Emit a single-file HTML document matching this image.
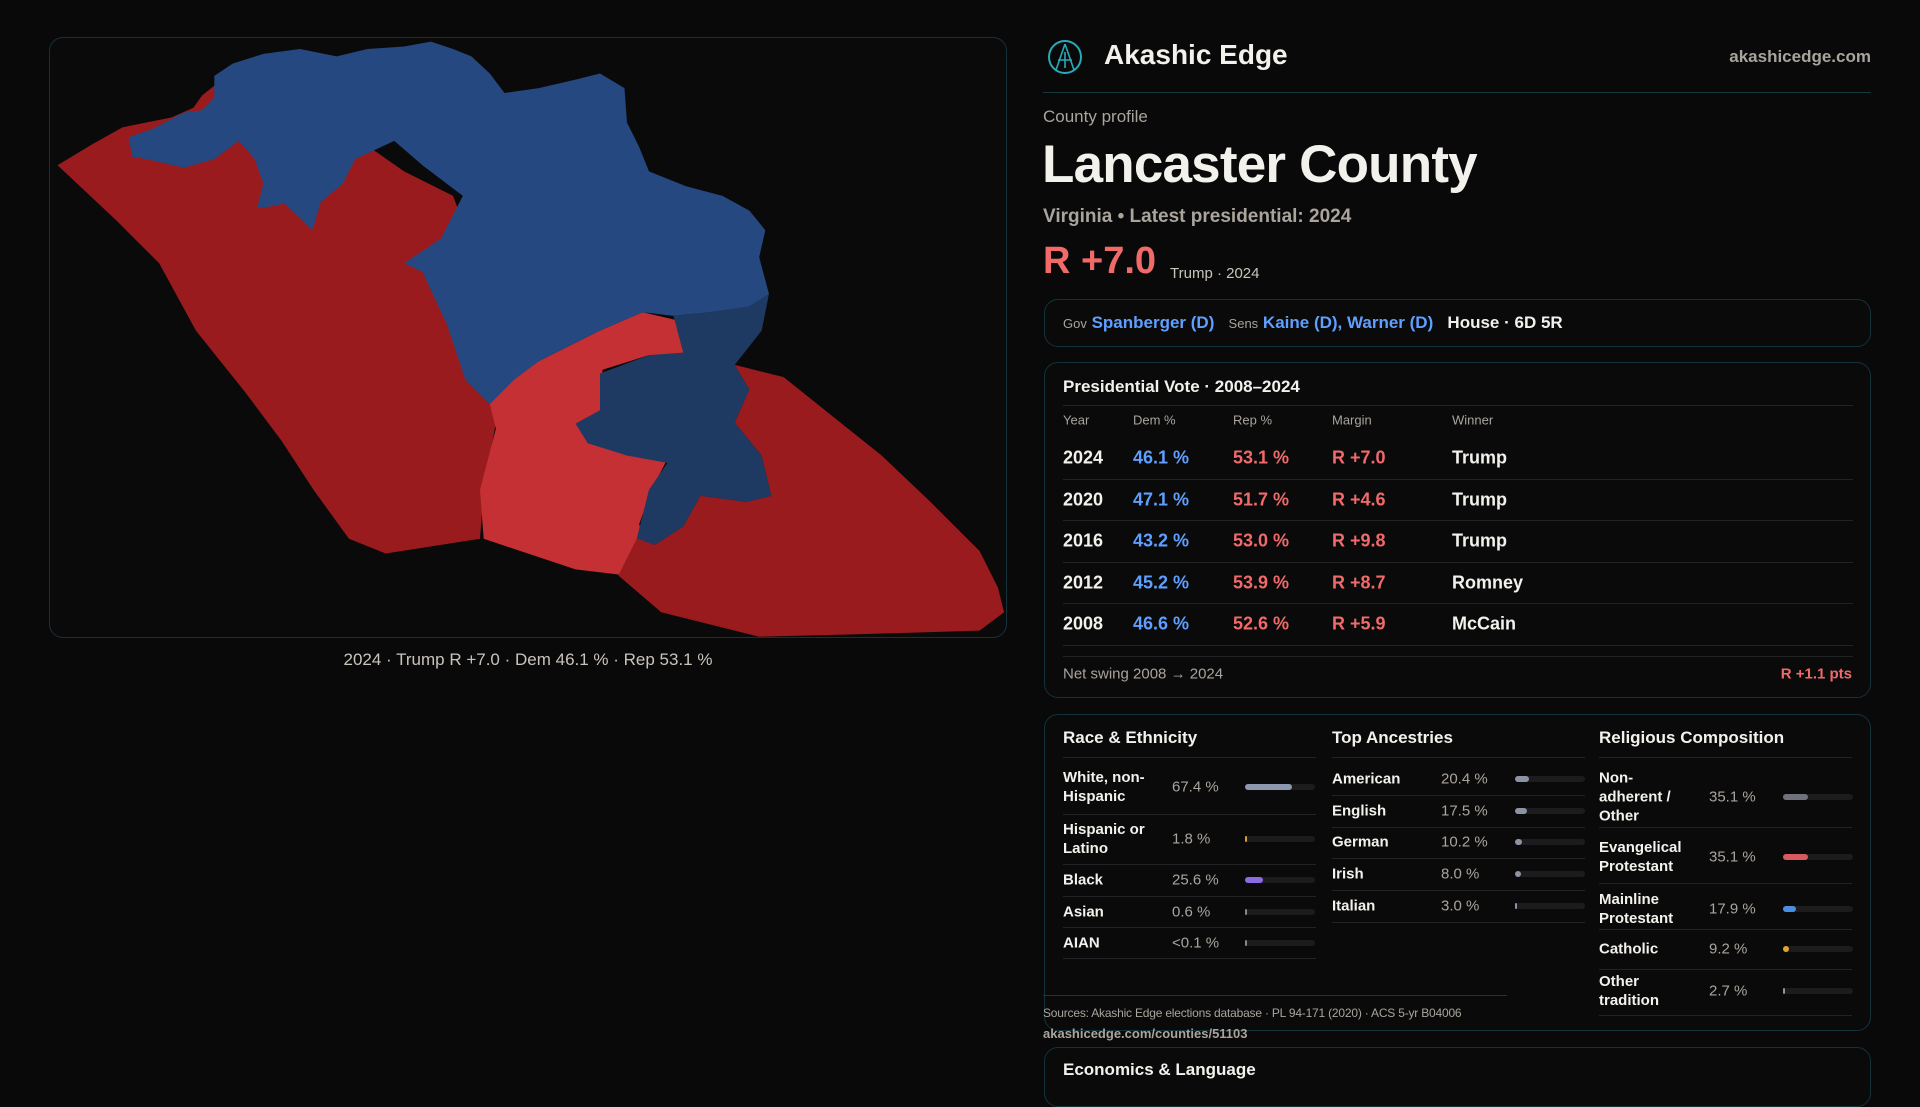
<!DOCTYPE html>
<html><head><meta charset="utf-8">
<style>
*{margin:0;padding:0;box-sizing:border-box}
body{width:1920px;height:1080px;background:#0a090a;font-family:"Liberation Sans",sans-serif;color:#f3f1ec;position:relative;overflow:hidden}
.abs{position:absolute;white-space:nowrap}
.panel{position:absolute;border:1px solid #14323a;border-radius:14px;background:#0b0a0b}
.grey{color:#a9a49c}
.blue{color:#5e9fff}
.red{color:#f06a6a}
.hl{position:absolute;height:1px;background:#232325}
.mid{transform:translateY(-50%)}
.track{position:absolute;height:6px;border-radius:3px;background:#1c1c1f}
.fill{position:absolute;left:0;top:0;height:6px;border-radius:3px}
</style></head><body>

<div class="panel" style="left:49px;top:37px;width:958px;height:601px"></div>
<svg style="position:absolute;left:0;top:0" width="1920" height="1080" viewBox="0 0 1568 882">
 <path fill="#9a1b1e" d="M47,135 L75,118 L100,104 L140,96 L158,88 L165,78 L175,70 L200,60 L290,112 L330,140 L370,160 L385,200 L395,240 L398,290 L405,345 L395,400 L392,440 L315,452 L285,440 L256,400 L230,360 L200,320 L160,270 L130,215 L95,180 Z"/>
 <path fill="#24487f" d="M105,112 L125,105 L150,92 L165,90 L175,80 L175,62 L190,52 L215,44 L245,40 L275,46 L300,40 L330,38 L352,34 L370,40 L385,46 L400,60 L412,76 L440,72 L470,65 L490,60 L510,72 L512,100 L522,120 L530,140 L560,152 L590,160 L612,172 L625,188 L620,210 L628,240 L615,250 L580,255 L550,258 L525,255 L490,270 L440,295 L400,330 L380,310 L365,265 L345,222 L330,215 L360,195 L378,160 L345,135 L322,115 L290,130 L280,150 L262,165 L255,188 L245,178 L232,166 L225,168 L210,170 L215,150 L208,130 L195,115 L175,130 L150,137 L120,130 L108,128 Z"/>
 <path fill="#c43033" d="M400,330 L420,310 L440,295 L490,270 L525,255 L555,262 L560,290 L530,290 L492,302 L492,335 L472,345 L482,360 L512,372 L545,375 L532,400 L522,428 L526,442 L512,470 L470,465 L395,440 L392,400 L405,350 Z"/>
 <path fill="#1f3a62" d="M550,258 L580,255 L612,250 L628,240 L622,270 L600,298 L612,318 L600,345 L622,372 L630,405 L610,410 L572,405 L558,430 L535,445 L520,440 L530,400 L545,378 L512,372 L480,362 L470,346 L490,335 L490,305 L530,290 L558,288 Z"/>
 <path fill="#9a1b1e" d="M600,298 L640,308 L680,340 L720,372 L760,410 L800,450 L815,480 L820,500 L800,515 L700,518 L620,520 L540,500 L505,470 L520,440 L535,445 L558,430 L572,405 L610,410 L630,405 L622,372 L600,345 L612,318 Z"/>
</svg>
<div class="abs grey" style="left:0;width:1056px;text-align:center;top:650px;font-size:17px;color:#c9c4bb">2024 · Trump R +7.0 · Dem 46.1 % · Rep 53.1 %</div>

<svg class="abs" style="left:1046px;top:38px" width="38" height="38" viewBox="0 0 38 38"><circle cx="19" cy="19" r="16" fill="none" stroke="#2aa9b8" stroke-width="2"/><path d="M19 6 L10 32 M19 6 L28 32 M12 22 L26 22 M19 14 L19 30" stroke="#2aa9b8" stroke-width="1.6" fill="none"/></svg>
<div class="abs" style="left:1104px;top:39px;font-size:28px;font-weight:bold">Akashic Edge</div>
<div class="abs grey" style="right:49px;top:47px;font-size:17px;font-weight:bold">akashicedge.com</div>
<div class="hl" style="left:1043px;width:828px;top:92px;background:#163840"></div>

<div class="abs grey" style="left:1043px;top:107px;font-size:17px">County profile</div>
<div class="abs" style="left:1042px;top:134px;font-size:53px;font-weight:bold;letter-spacing:-0.8px">Lancaster County</div>
<div class="abs grey" style="left:1043px;top:206px;font-size:19px;font-weight:bold">Virginia • Latest presidential: 2024</div>
<div class="abs red" style="left:1043px;top:240px;font-size:38px;font-weight:bold">R +7.0</div>
<div class="abs grey" style="left:1170px;top:265px;font-size:15px;color:#c9c4bb">Trump · 2024</div>

<div class="panel" style="left:1044px;top:299px;width:827px;height:48px"></div>
<div class="abs mid" style="left:1063px;top:323px;font-size:17px;font-weight:bold">
 <span class="grey" style="font-size:13px;font-weight:normal">Gov</span> <span class="blue">Spanberger (D)</span>&nbsp;&nbsp; <span class="grey" style="font-size:13px;font-weight:normal">Sens</span> <span class="blue">Kaine (D), Warner (D)</span>&nbsp;&nbsp; <span>House · 6D 5R</span></div>

<div class="panel" style="left:1044px;top:362px;width:827px;height:336px"></div>
<div class="abs" style="left:1063px;top:377px;font-size:17px;font-weight:bold">Presidential Vote · 2008–2024</div>
<div class="hl" style="left:1063px;width:790px;top:405px"></div>
<div class="hl" style="left:1063px;width:790px;top:656px"></div>
<div class="abs grey mid" style="left:1063px;top:674px;font-size:15px">Net swing 2008 → 2024</div>
<div class="abs red mid" style="right:68px;top:674px;font-size:15px;font-weight:bold">R +1.1 pts</div>

<div class="panel" style="left:1044px;top:714px;width:827px;height:317px"></div>
<div class="hl" style="left:1043px;width:464px;top:995px;background:#163840"></div>
<div class="abs grey" style="left:1043px;top:1006px;font-size:12px;letter-spacing:-0.2px">Sources: Akashic Edge elections database · PL 94-171 (2020) · ACS 5-yr B04006</div>
<div class="abs grey" style="left:1043px;top:1026px;font-size:13px;font-weight:bold">akashicedge.com/counties/51103</div>

<div class="panel" style="left:1044px;top:1047px;width:827px;height:60px"></div>
<div class="abs" style="left:1063px;top:1060px;font-size:17px;font-weight:bold">Economics &amp; Language</div>

<script>
const years=["2024","2020","2016","2012","2008"];
const demPct=[46.1,47.1,43.2,45.2,46.6];
const repPct=[53.1,51.7,53.0,53.9,52.6];
const margins=[7.0,4.6,9.8,8.7,5.9];
const winners=["Trump","Trump","Trump","Romney","McCain"];

const raceLabels=["White, non-Hispanic","Hispanic or Latino","Black","Asian","AIAN"];
const raceVals=[67.4,1.8,25.6,0.6,0.05];
const raceText=["67.4 %","1.8 %","25.6 %","0.6 %","<0.1 %"];
const ancLabels=["American","English","German","Irish","Italian"];
const ancVals=[20.4,17.5,10.2,8.0,3.0];
const relLabels=["Non-adherent / Other","Evangelical Protestant","Mainline Protestant","Catholic","Other tradition"];
const relVals=[35.1,35.1,17.9,9.2,2.7];

function add(parent,html,style,name,cls){
  const d=document.createElement('div');
  d.className='abs '+(cls||'');
  d.style.cssText=style;d.innerHTML=html;
  
  
  parent.appendChild(d);return d;
}
const body=document.body;
const cols=[1063,1133,1233,1332,1452];
["Year","Dem %","Rep %","Margin","Winner"].forEach((h,i)=>{
  add(body,h,`left:${cols[i]}px;top:420px;font-size:13px;transform:translateY(-50%)`,'column-header','grey');
});
const rowY=i=>458+i*41.6;
years.forEach((y,i)=>{
  const cy=rowY(i);
  const st=`top:${cy}px;font-size:18px;font-weight:bold;transform:translateY(-50%);`;
  add(body,y,st+`left:${cols[0]}px`,'year-cell','');
  add(body,demPct[i].toFixed(1)+' %',st+`left:${cols[1]}px`,'dem-cell','blue');
  add(body,repPct[i].toFixed(1)+' %',st+`left:${cols[2]}px`,'rep-cell','red');
  add(body,'R +'+margins[i].toFixed(1),st+`left:${cols[3]}px`,'margin-cell','red');
  add(body,winners[i],st+`left:${cols[4]}px`,'winner-cell','');
  const l=add(body,'',`left:1063px;width:790px;top:${cy+20.5}px`,'row-divider','');
  l.className='hl';
});
function section(x,title,labels,vals,texts,centers,divs,colors,barX,valX){
  add(body,title,`left:${x}px;top:728px;font-size:17px;font-weight:bold`,'section-title','');
  const h=add(body,'',`left:${x}px;width:253px;top:757px`,'section-divider','');h.className='hl';
  labels.forEach((lab,i)=>{
    add(body,lab,`left:${x}px;top:${centers[i]}px;width:90px;white-space:normal;line-height:19px;font-size:15px;font-weight:bold;transform:translateY(-50%)`,'category-label','');
    add(body,texts?texts[i]:vals[i].toFixed(1)+' %',`left:${valX}px;top:${centers[i]}px;font-size:15px;transform:translateY(-50%)`,'category-value','grey');
    const t=add(body,'',`left:${barX}px;top:${centers[i]-3}px;width:70px`,'bar-track','');t.className='track';
    const f=document.createElement('div');f.className='fill';
    f.style.width=Math.max(2,vals[i]/100*70)+'px';f.style.background=colors[i];
    
    
    t.appendChild(f);
    const d=add(body,'',`left:${x}px;width:253px;top:${divs[i]}px`,'row-divider','');d.className='hl';
  });
}
section(1063,"Race &amp; Ethnicity",raceLabels,raceVals,raceText,[787,839,880,912,943],[814,864,896,927,958],["#8c98ad","#d4a02a","#8d6be0","#888","#888"],1245,1172);
section(1332,"Top Ancestries",ancLabels,ancVals,null,[779,811,842,874,906],[795,827,858,890,922],["#8c93a3","#8c93a3","#8c93a3","#8c93a3","#8c93a3"],1515,1441);
section(1599,"Religious Composition",relLabels,relVals,null,[797,857,909,949,991],[827,883,929,969,1015],["#6f727b","#d95a5e","#4a8ee0","#e0a52a","#8c93a3"],1783,1709);
</script>
</body></html>
